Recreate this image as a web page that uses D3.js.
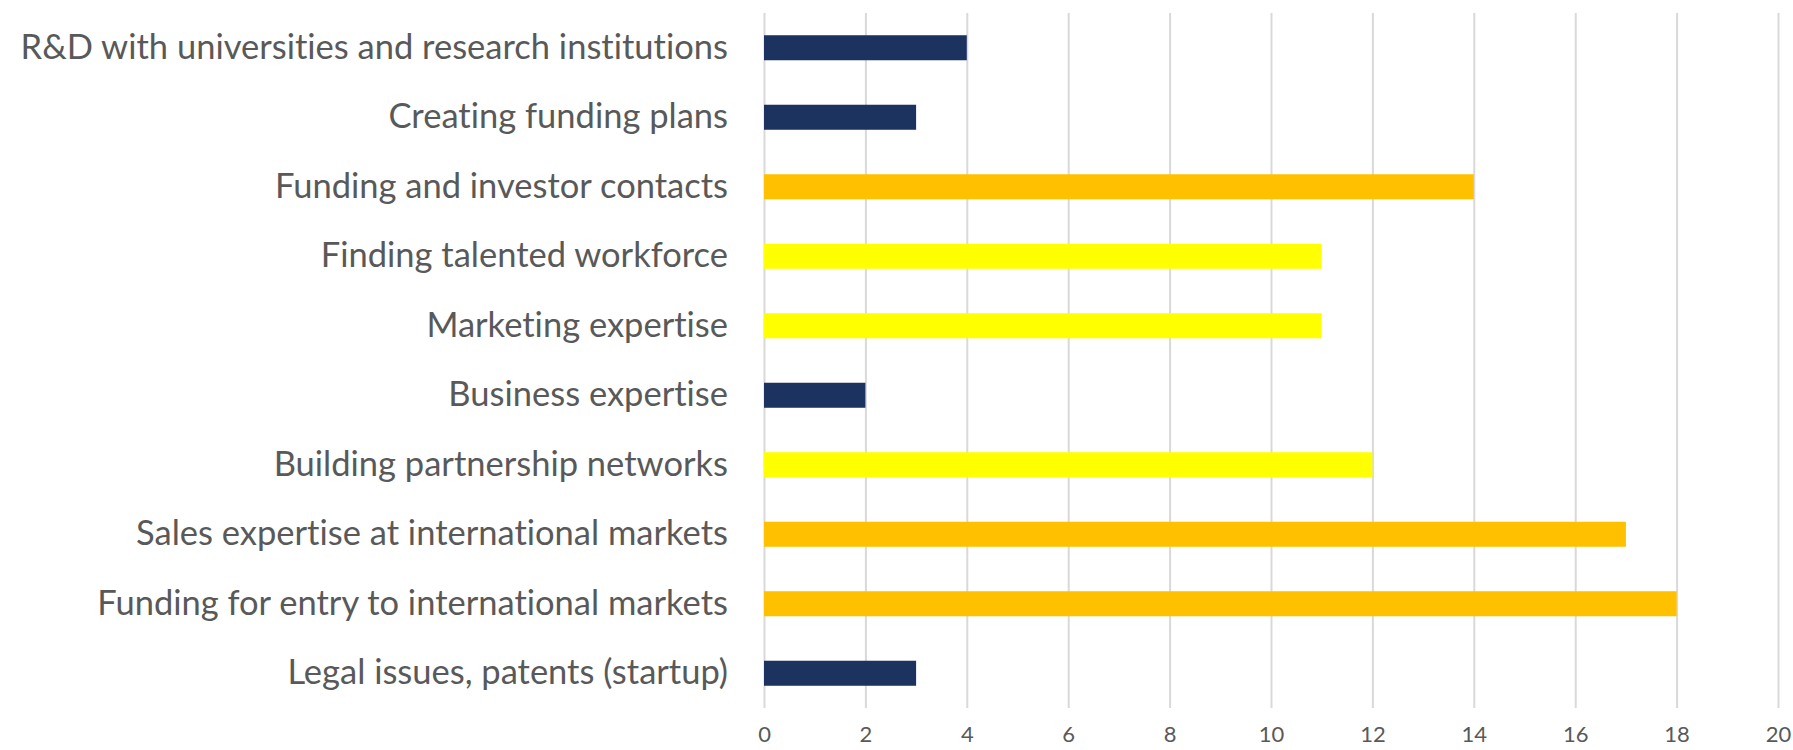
<!DOCTYPE html>
<html>
<head>
<meta charset="utf-8">
<script src="https://cdn.jsdelivr.net/npm/d3@7"></script>
<style>
  html, body { margin: 0; padding: 0; background: #fff; }
  svg { display: block; }
  text { font-variant-ligatures: none; font-feature-settings: "liga" 0, "clig" 0; }
</style>
</head>
<body>
<svg id="chart" width="1793" height="750"></svg>
<script>
const categories = [
  "R&D with universities and research institutions",
  "Creating funding plans",
  "Funding and investor contacts",
  "Finding talented workforce",
  "Marketing expertise",
  "Business expertise",
  "Building partnership networks",
  "Sales expertise at international markets",
  "Funding for entry to international markets",
  "Legal issues, patents (startup)"
];
const values = [4, 3, 14, 11, 11, 2, 12, 17, 18, 3];
const groups = ["low", "low", "high", "mid", "mid", "low", "mid", "high", "high", "low"];
const xTicks = [0, 2, 4, 6, 8, 10, 12, 14, 16, 18, 20];

const colorByGroup = { low: "#1C3360", mid: "#FFFF00", high: "#FFC000" };

(function () {
const svg = d3.select("#chart");
const plotLeft = 764, plotRight = 1778, plotTop = 13, plotBottom = 708;

const x = d3.scaleLinear().domain([0, 20]).range([plotLeft, plotRight]);
const y = d3.scaleBand().domain(categories).range([plotTop, plotBottom])
  .paddingInner(0.64).paddingOuter(0.32);

const fontFamily = "Lato, 'Noto Sans', sans-serif";

// x axis with gridlines
const xAxis = d3.axisBottom(x).tickValues(xTicks).tickSize(-(plotBottom - plotTop)).tickPadding(18)
  .tickFormat(d3.format("d"));
const gx = svg.append("g").attr("transform", `translate(0,${plotBottom})`).call(xAxis);
gx.select(".domain").remove();
gx.selectAll(".tick line").attr("stroke", "#D9D9D9").attr("stroke-width", 2);
gx.selectAll(".tick text").attr("fill", "#595959").attr("font-family", fontFamily)
  .attr("font-size", 22).attr("dy", "0.71em");

// bars
svg.append("g").selectAll("rect").data(categories).join("rect")
  .attr("x", x(0))
  .attr("y", d => y(d))
  .attr("width", (d, i) => x(values[i]) - x(0))
  .attr("height", y.bandwidth())
  .attr("fill", (d, i) => colorByGroup[groups[i]]);

// y axis labels
const yAxis = d3.axisLeft(y).tickSize(0).tickPadding(36);
const gy = svg.append("g").attr("transform", `translate(${plotLeft},0)`).call(yAxis);
gy.select(".domain").remove();
gy.selectAll(".tick text").attr("fill", "#595959").attr("font-family", fontFamily)
  .attr("font-size", 34.5);
})();
</script>
</body>
</html>
